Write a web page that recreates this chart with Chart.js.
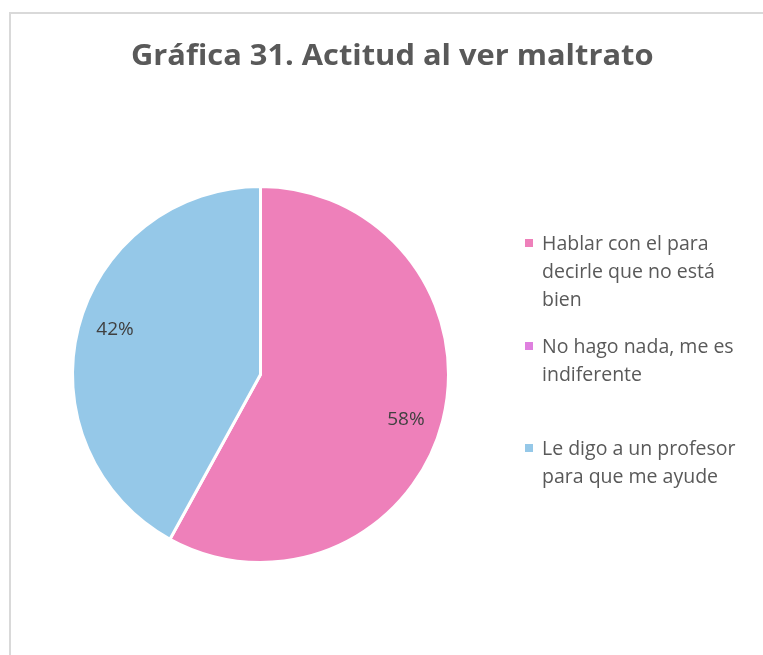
<!DOCTYPE html>
<html>
<head>
<meta charset="utf-8">
<script src="https://cdn.jsdelivr.net/npm/chart.js@4"></script>
<style>
  html, body { margin: 0; padding: 0; background: #fff; overflow: hidden; }
  body { width: 763px; height: 655px; position: relative; font-family: "Open Sans", sans-serif; }
  #frameTop { position: absolute; left: 9px; top: 12px; width: 754px; height: 2px; background: #d9d9d9; }
  #frameLeft { position: absolute; left: 9px; top: 12px; width: 2px; height: 643px; background: #d9d9d9; }
  #chart { position: absolute; left: 0; top: 0; }
  #title { position: absolute; top: 34px; left: 0; white-space: nowrap; font-weight: 700; font-size: 29px; color: #595959; transform-origin: 0 0; }
  .legend-item { position: absolute; left: 525px; color: #595959; font-size: 19.5px; line-height: 28px; }
  .legend-item .box { position: absolute; left: 0; top: 10px; width: 8px; height: 8px; }
  .legend-item .txt { position: absolute; left: 17px; top: 0; white-space: nowrap; }
</style>
</head>
<body>
<div id="frameTop"></div>
<div id="frameLeft"></div>
<canvas id="chart" width="763" height="655"></canvas>
<div id="title"></div>
<div id="legend"></div>
<script>
// chart data
const chartTitle = 'Gráfica 31. Actitud al ver maltrato';
const categories = [
    ['Hablar con el para', 'decirle que no está', 'bien'],
    ['No hago nada, me es', 'indiferente'],
    ['Le digo a un profesor', 'para que me ayude']
];
const percentages = [58, 0, 42];
const sliceColors = ['#EE80BA', '#DF80DF', '#95C8E8'];

// title, stretched to the width it has in the picture
const titleEl = document.getElementById('title');
titleEl.textContent = chartTitle;
const titleWidth = 522;
const titleScale = titleWidth / titleEl.scrollWidth;
titleEl.style.transform = 'scaleX(' + titleScale + ')';
titleEl.style.left = (392 - titleWidth / 2) + 'px';

// legend on the right, each entry gets the same slot height
const legendEl = document.getElementById('legend');
categories.forEach((lines, i) => {
    const item = document.createElement('div');
    item.className = 'legend-item';
    item.style.top = (229 + i * 102.5) + 'px';
    const box = document.createElement('span');
    box.className = 'box';
    box.style.background = sliceColors[i];
    const txt = document.createElement('span');
    txt.className = 'txt';
    txt.innerHTML = lines.join('<br>');
    item.appendChild(box);
    item.appendChild(txt);
    legendEl.appendChild(item);
});

// percent labels inside the slices (Excel nudges them a little clockwise)
const sliceLabels = {
    id: 'sliceLabels',
    afterDatasetsDraw(chart) {
        const ctx = chart.ctx;
        const meta = chart.getDatasetMeta(0);
        ctx.save();
        ctx.font = '19px "Open Sans"';
        ctx.fillStyle = '#404040';
        ctx.textAlign = 'center';
        ctx.textBaseline = 'middle';
        meta.data.forEach((arc, i) => {
            const value = percentages[i];
            if (!value) return;
            const p = arc.getProps(['x', 'y', 'startAngle', 'endAngle', 'outerRadius'], true);
            const mid = (p.startAngle + p.endAngle) / 2 + 0.05;
            const r = p.outerRadius * 0.81;
            ctx.fillText(value + '%', p.x + Math.cos(mid) * r, p.y + Math.sin(mid) * r);
        });
        ctx.restore();
    }
};

new Chart(document.getElementById('chart'), {
    type: 'pie',
    data: {
        labels: categories,
        datasets: [{
            data: percentages,
            backgroundColor: sliceColors,
            borderColor: '#ffffff',
            borderWidth: 3,
            hoverOffset: 0
        }]
    },
    options: {
        responsive: false,
        animation: false,
        events: [],
        layout: {
            padding: { left: 71, top: 185, right: 313, bottom: 91 }
        },
        plugins: {
            legend: { display: false },
            title: { display: false },
            tooltip: { enabled: false }
        }
    },
    plugins: [sliceLabels]
});
</script>
</body>
</html>
